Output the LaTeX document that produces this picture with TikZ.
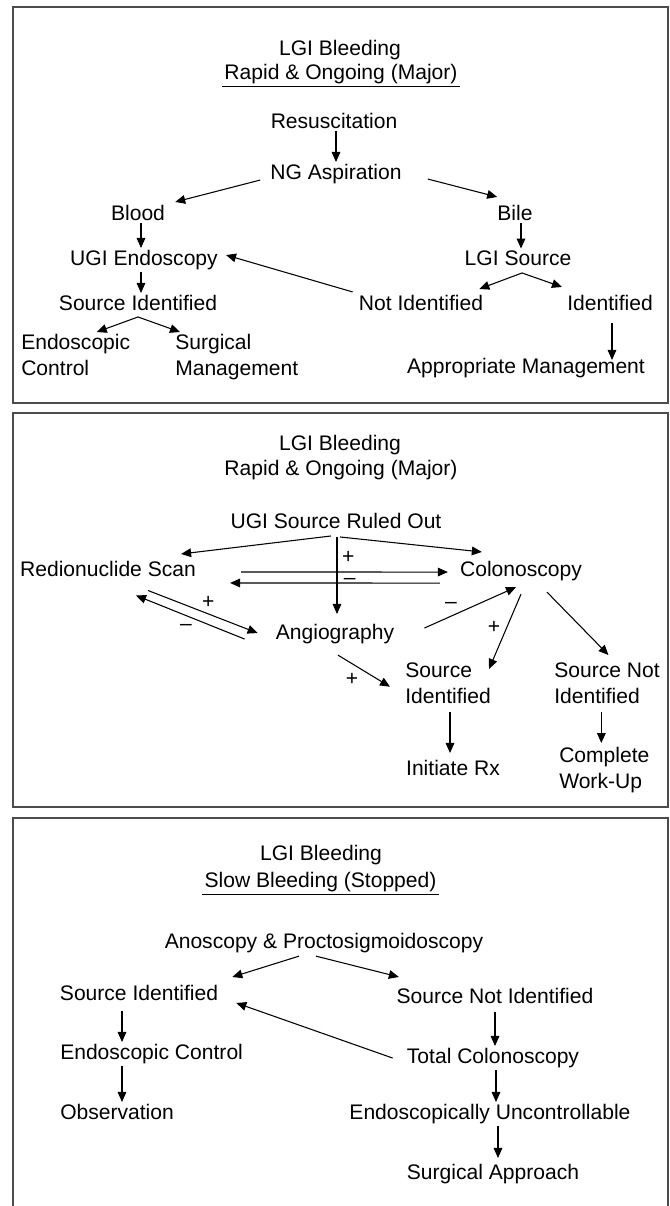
\documentclass[tikz,border=0pt]{standalone}
\usepackage{fontspec}
\setmainfont{Liberation Sans}
\usetikzlibrary{arrows.meta}

\begin{document}
\begin{tikzpicture}[x=0.75pt,y=-0.75pt,
		txt/.style={font=\fontsize{15.8}{19.5}\selectfont,inner sep=1.5pt},
		lft/.style={txt,align=left},
		sgn/.style={font=\fontsize{15.8}{19.5}\selectfont,inner sep=1pt},
		arr/.style={->,>={Triangle[length=7.5pt,width=6.5pt]},line width=0.8pt},
		panel/.style={draw=black!70,line width=1pt}]
		\useasboundingbox (0,0) rectangle (669,1206);

		% the three boxes
		\draw[panel] (13,7) rectangle (668,403);
		\draw[panel] (13,413) rectangle (668,807);
		\draw[panel] (13,1206) -- (13,818) -- (668,818) -- (668,1206);

		% rapid bleeding: first steps
		\node[txt,anchor=base] (ttlA) at (340,55.5) {LGI Bleeding};
		\node[txt,anchor=base] (subA) at (341,79.5) {Rapid \& Ongoing (Major)};
		\draw[line width=0.7pt] (subA.south west) -- (subA.south east);

		\node[txt,anchor=base] (resus) at (334,128.5) {Resuscitation};
		\node[txt,anchor=base] (ng) at (336,179.5) {NG Aspiration};
		\node[txt,anchor=base] (blood) at (138,220.5) {Blood};
		\node[txt,anchor=base] (bile) at (515,220.5) {Bile};
		\node[txt,anchor=base] (ugi) at (144,265.5) {UGI Endoscopy};
		\node[txt,anchor=base] (lgi) at (518,265.5) {LGI Source};
		\node[txt,anchor=base] (srcA) at (138,310.5) {Source Identified};
		\node[txt,anchor=base] (notid) at (421,310.5) {Not Identified};
		\node[txt,anchor=base] (ident) at (610,310.5) {Identified};
		\node[lft,anchor=north west] (endo) at (19,332) {Endoscopic\\Control};
		\node[lft,anchor=north west] (surg) at (173,332) {Surgical\\Management};
		\node[txt,anchor=base] (appr) at (526,373.5) {Appropriate Management};

		\draw[arr] (ng.north |- resus.south) -- (ng.north);
		\draw[arr] ([shift={(-8,6)}]ng.west) -- ([shift={(8,-1)}]blood.north east);
		\draw[arr] ([shift={(24,5)}]ng.east) -- ([shift={(2,-6)}]bile.north west);
		\draw[arr] ([shift={(3,0)}]blood.south) -- ([shift={(3,0)}]blood.south |- ugi.north);
		\draw[arr] ([shift={(6,0)}]bile.south) -- ([shift={(6,0)}]bile.south |- lgi.north);
		\draw[arr] ([shift={(-3,0)}]ugi.south) -- ([shift={(-3,0)}]ugi.south |- srcA.north);
		\draw[arr] ([shift={(-4,-1)}]notid.north west) -- ([shift={(6,-5)}]ugi.east);
		\draw[arr] ([shift={(4,5)}]lgi.south) -- ([shift={(-6,-4)}]notid.north east);
		\draw[arr] ([shift={(4,5)}]lgi.south) -- ([shift={(-3,-6)}]ident.north west);
		\draw[arr] ([shift={(0,4)}]srcA.south) -- ([shift={(21,0)}]endo.north);
		\draw[arr] ([shift={(0,4)}]srcA.south) -- ([shift={(7,0)}]surg.north west);
		\draw[arr] ([shift={(2,10)}]ident.south) -- ([shift={(2,4)}]ident.south |- appr.north);

		% rapid bleeding: UGI source ruled out
		\node[txt,anchor=base] (ttlB) at (340,450.5) {LGI Bleeding};
		\node[txt,anchor=base] (subB) at (341,475.5) {Rapid \& Ongoing (Major)};
		\node[txt,anchor=base] (ugis) at (336,528.5) {UGI Source Ruled Out};
		\node[txt,anchor=base] (radio) at (108,576.5) {Redionuclide Scan};
		\node[txt,anchor=base] (colon) at (521,576.5) {Colonoscopy};
		\node[txt,anchor=base] (angio) at (335,639.5) {Angiography};
		\node[lft,anchor=north west] (srcB) at (403,661) {Source\\Identified};
		\node[lft,anchor=north west] (snB) at (552,661) {Source Not\\Identified};
		\node[txt,anchor=base] (initrx) at (453,775.5) {Initiate Rx};
		\node[lft,anchor=north west] (compl) at (557,745) {Complete\\Work-Up};

		\draw[arr] ([shift={(-5,5)}]ugis.south) -- ([shift={(-17,-5)}]radio.north east);
		\draw[arr] ([shift={(4,6)}]ugis.south) -- ([shift={(24,-7)}]colon.north west);
		\draw[arr] ([shift={(1,6)}]ugis.south) -- ([shift={(1,-8)}]ugis.south |- angio.north)
			node[sgn,pos=.26,right=2.5pt]{+};
		\draw[arr] ([shift={(43,3)}]radio.east) -- ([shift={(-10,1)}]colon.west);
		\draw[arr] ([shift={(-18,12)}]colon.west) -- ([shift={(32,14)}]radio.east)
			node[sgn,pos=.43,yshift=1.4pt]{--};
		\draw[arr] ([shift={(40,11.5)}]radio.south) -- ([shift={(-16,-1)}]angio.west)
			node[sgn,pos=.55,above=2.3pt]{+};
		\draw[arr] ([shift={(-29,5)}]angio.west) -- ([shift={(28,16.5)}]radio.south)
			node[sgn,pos=.54,below=5pt]{--};
		\draw[arr] ([shift={(28,-6)}]angio.east) -- ([shift={(-5,4)}]colon.south)
			node[sgn,pos=.29,above=4pt]{--};
		\draw[arr] ([shift={(0,11)}]colon.south) -- ([shift={(-4,8)}]srcB.north east)
			node[sgn,pos=.45,left=3.5pt]{+};
		\draw[arr] ([shift={(26,9)}]colon.south) -- ([shift={(1.5,-6)}]snB.north);
		\draw[arr] ([shift={(3,9)}]angio.south) -- ([shift={(-13,3)}]srcB.west)
			node[sgn,pos=.27,below=6pt]{+};
		\draw[arr] ([shift={(2,6)}]srcB.south) -- ([shift={(2,-5)}]srcB.south |- initrx.north);
		\draw[arr] ([shift={(-3,6)}]compl.north |- snB.south) -- ([shift={(-3,-2)}]compl.north);

		% slow bleeding
		\node[txt,anchor=base] (ttlC) at (321,860.5) {LGI Bleeding};
		\node[txt,anchor=base] (subC) at (320.5,887.5) {Slow Bleeding (Stopped)\ };
		\draw[line width=0.7pt] (subC.south west) -- (subC.south east);
		\node[txt,anchor=base] (anos) at (324,948.5) {Anoscopy \& Proctosigmoidoscopy};
		\node[txt,anchor=base] (srcC) at (139,1000.5) {Source Identified};
		\node[txt,anchor=base] (snC) at (495,1003.5) {Source Not Identified};
		\node[txt,anchor=base west] (endc) at (58,1059.5) {Endoscopic Control};
		\node[txt,anchor=base west] (obs) at (58,1119.5) {Observation};
		\node[txt,anchor=base] (totc) at (493,1063.5) {Total Colonoscopy};
		\node[txt,anchor=base] (endu) at (490,1119.5) {Endoscopically Uncontrollable};
		\node[txt,anchor=base] (surga) at (493,1179.5) {Surgical Approach};

		\draw[arr] ([shift={(-25,1)}]anos.south) -- ([shift={(12,-6)}]srcC.north east);
		\draw[arr] ([shift={(-8,1)}]anos.south) -- ([shift={(4.5,-9)}]snC.north west);
		\draw[arr] ([shift={(-12,0)}]totc.west) -- ([shift={(16,10)}]srcC.east);
		\draw[arr] ([shift={(-17,8)}]srcC.south) -- ([shift={(-17,0)}]srcC.south |- endc.north);
		\draw[arr] ([shift={(64,0)}]endc.south west) -- ([shift={(64,0)}]endc.south west |- obs.north);
		\draw[arr] ([shift={(0,6)}]snC.south) -- (snC.south |- totc.north);
		\draw[arr] ([shift={(3,0)}]totc.south) -- ([shift={(3,0)}]totc.south |- endu.north);
		\draw[arr] ([shift={(8,0)}]endu.south) -- ([shift={(8,-4)}]endu.south |- surga.north);
	\end{tikzpicture}
\end{document}
